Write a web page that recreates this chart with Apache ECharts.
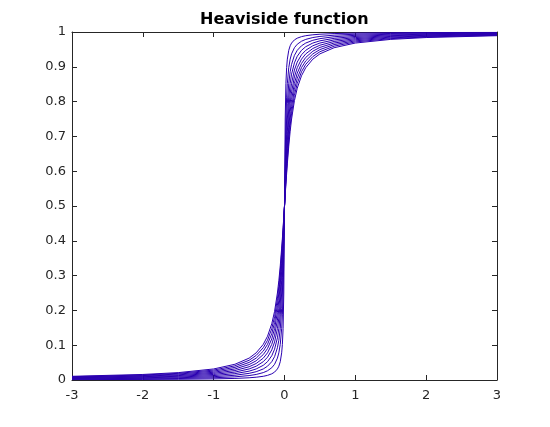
<!DOCTYPE html>
<html>
<head>
<meta charset="utf-8">
<script src="https://cdn.jsdelivr.net/npm/echarts@6/dist/echarts.min.js"></script>
<style>html,body{margin:0;padding:0;background:#fff;}#chart{width:550px;height:427px;}</style>
</head>
<body>
<div id="chart"></div>
<script>
var titleText = 'Heaviside function';
var xTicks = [-3, -2, -1, 0, 1, 2, 3];
var yTicks = [0, 0.1, 0.2, 0.3, 0.4, 0.5, 0.6, 0.7, 0.8, 0.9, 1];
var xValues = [-3, -2, -1.5, -1, -0.7, -0.5, -0.4, -0.3, -0.24, -0.18, -0.14, -0.1, -0.08, -0.06, -0.04, -0.03, -0.02, -0.01, 0,
  0.01, 0.02, 0.03, 0.04, 0.06, 0.08, 0.1, 0.14, 0.18, 0.24, 0.3, 0.4, 0.5, 0.7, 1, 1.5, 2, 3];
var h1 = [0.0011,0.0016,0.0021,0.0032,0.0045,0.0064,0.0080,0.0106,0.0133,0.0177,0.0227,0.0317,0.0396,0.0526,0.0780,0.1024,0.1476,0.25,0.5,
  0.75,0.8524,0.8976,0.9220,0.9474,0.9604,0.9683,0.9773,0.9823,0.9867,0.9894,0.9920,0.9936,0.9955,0.9968,0.9979,0.9984,0.9989];
var h2 = [0.0021,0.0032,0.0042,0.0064,0.0091,0.0127,0.0159,0.0212,0.0265,0.0352,0.0452,0.0628,0.0780,0.1024,0.1476,0.1872,0.25,0.3524,0.5,
  0.6476,0.75,0.8128,0.8524,0.8976,0.9220,0.9372,0.9548,0.9648,0.9735,0.9788,0.9841,0.9873,0.9909,0.9936,0.9958,0.9968,0.9979];
var h3 = [0.0032,0.0048,0.0064,0.0095,0.0136,0.0191,0.0238,0.0317,0.0396,0.0526,0.0672,0.0928,0.1142,0.1476,0.2048,0.25,0.3128,0.3976,0.5,
  0.6024,0.6872,0.75,0.7952,0.8524,0.8858,0.9072,0.9328,0.9474,0.9604,0.9683,0.9762,0.9809,0.9864,0.9905,0.9936,0.9952,0.9968];
var h4 = [0.0042,0.0064,0.0085,0.0127,0.0182,0.0254,0.0317,0.0422,0.0526,0.0696,0.0886,0.1211,0.1476,0.1872,0.25,0.2952,0.3524,0.4220,0.5,
  0.5780,0.6476,0.7048,0.75,0.8128,0.8524,0.8789,0.9114,0.9304,0.9474,0.9578,0.9683,0.9746,0.9818,0.9873,0.9915,0.9936,0.9958];
var h5 = [0.0053,0.0080,0.0106,0.0159,0.0227,0.0317,0.0396,0.0526,0.0654,0.0863,0.1092,0.1476,0.1778,0.2211,0.2852,0.3280,0.3789,0.4372,0.5,
  0.5628,0.6211,0.6720,0.7148,0.7789,0.8222,0.8524,0.8908,0.9137,0.9346,0.9474,0.9604,0.9683,0.9773,0.9841,0.9894,0.9920,0.9947];
var h6 = [0.0064,0.0095,0.0127,0.0191,0.0272,0.0380,0.0474,0.0628,0.0780,0.1024,0.1289,0.1720,0.2048,0.25,0.3128,0.3524,0.3976,0.4474,0.5,
  0.5526,0.6024,0.6476,0.6872,0.75,0.7952,0.8280,0.8711,0.8976,0.9220,0.9372,0.9526,0.9620,0.9728,0.9809,0.9873,0.9905,0.9936];
var h7 = [0.0074,0.0111,0.0148,0.0222,0.0317,0.0443,0.0551,0.0730,0.0903,0.1181,0.1476,0.1944,0.2288,0.2744,0.3348,0.3711,0.4114,0.4548,0.5,
  0.5452,0.5886,0.6289,0.6652,0.7256,0.7712,0.8056,0.8524,0.8819,0.9097,0.9270,0.9449,0.9557,0.9683,0.9778,0.9852,0.9889,0.9926];
var h8 = [0.0085,0.0127,0.0170,0.0254,0.0362,0.0505,0.0628,0.0830,0.1024,0.1331,0.1653,0.2148,0.25,0.2952,0.3524,0.3858,0.4220,0.4604,0.5,
  0.5396,0.5780,0.6142,0.6476,0.7048,0.75,0.7852,0.8347,0.8669,0.8976,0.9170,0.9372,0.9495,0.9638,0.9746,0.9830,0.9873,0.9915];
var h9 = [0.0095,0.0143,0.0191,0.0285,0.0407,0.0567,0.0705,0.0928,0.1142,0.1476,0.1819,0.2333,0.2687,0.3128,0.3669,0.3976,0.4304,0.4648,0.5,
  0.5352,0.5696,0.6024,0.6331,0.6872,0.7313,0.7667,0.8181,0.8524,0.8858,0.9072,0.9295,0.9433,0.9593,0.9715,0.9809,0.9857,0.9905];
var h10 = [0.0106,0.0159,0.0212,0.0317,0.0452,0.0628,0.0780,0.1024,0.1257,0.1614,0.1974,0.25,0.2852,0.3280,0.3789,0.4072,0.4372,0.4683,0.5,
  0.5317,0.5628,0.5928,0.6211,0.6720,0.7148,0.75,0.8026,0.8386,0.8743,0.8976,0.9220,0.9372,0.9548,0.9683,0.9788,0.9841,0.9894];
var curves = [h1, h2, h3, h4, h5, h6, h7, h8, h9, h10];

var lineColor = '#2a00b0';
var axisColor = '#262626';
var font = 'DejaVu Sans';

var series = curves.map(function (ys, i) {
  return {
    type: 'line',
    name: 'c' + (i + 1),
    showSymbol: false,
    symbol: 'none',
    smooth: false,
    animation: false,
    lineStyle: { color: lineColor, width: 1 },
    data: xValues.map(function (x, j) { return [x, ys[j]]; })
  };
});

function axisBase(pos, isX, showLabels) {
  var ticks = isX ? xTicks : yTicks;
  return {
    type: 'value',
    position: pos,
    min: ticks[0],
    max: ticks[ticks.length - 1],
    interval: isX ? 1 : 0.1,
    axisLine: { show: true, onZero: false, lineStyle: { color: axisColor, width: 1 } },
    axisTick: { show: true, inside: true, length: 5, lineStyle: { color: axisColor, width: 1 } },
    splitLine: { show: false },
    axisLabel: {
      show: showLabels,
      color: axisColor,
      fontFamily: font,
      fontSize: 13,
      margin: isX ? 9 : 6,
      formatter: function (v) { return String(Math.round(v * 10) / 10); }
    }
  };
}

var chart = echarts.init(document.getElementById('chart'), null, { renderer: 'canvas' });
chart.setOption({
  backgroundColor: '#ffffff',
  animation: false,
  title: {
    text: titleText,
    left: 195,
    top: 7,
    textStyle: { fontFamily: font, fontSize: 16, fontWeight: 'bold', color: '#000000' }
  },
  grid: { left: 72, right: 53, top: 32, bottom: 47, containLabel: false },
  xAxis: [axisBase('bottom', true, true), axisBase('top', true, false)],
  yAxis: [axisBase('left', false, true), axisBase('right', false, false)],
  series: series
});
</script>
</body>
</html>
